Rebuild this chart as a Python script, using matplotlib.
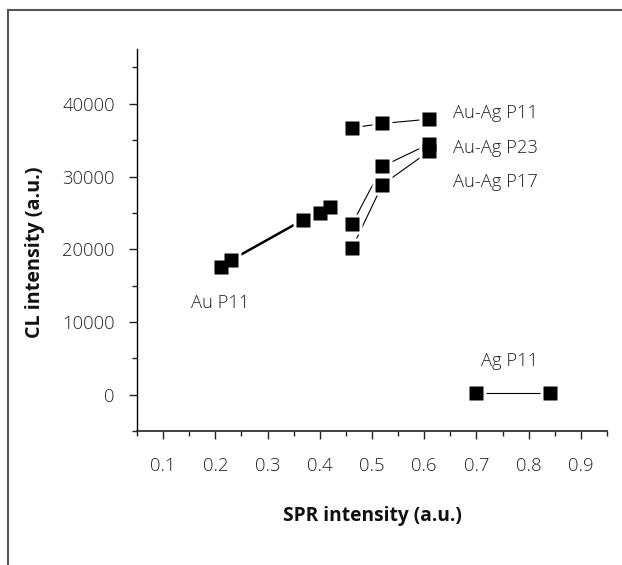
import matplotlib
matplotlib.use("Agg")
import matplotlib.pyplot as plt
from matplotlib.ticker import MultipleLocator
from matplotlib.lines import Line2D

plt.rcParams['font.family'] = ['Open Sans', 'DejaVu Sans']

# Data
au_p11_x = [0.21, 0.23, 0.367, 0.40, 0.42]
au_p11_y = [17500, 18500, 24000, 25000, 25800]
auag_p11_x = [0.462, 0.52, 0.61]
auag_p11_y = [36700, 37300, 37900]
auag_p23_x = [0.462, 0.52, 0.61]
auag_p23_y = [23500, 31400, 34500]
auag_p17_x = [0.462, 0.52, 0.61]
auag_p17_y = [20200, 28900, 33500]
ag_p11_x = [0.70, 0.84]
ag_p11_y = [200, 200]

series = [
    (au_p11_x, au_p11_y, 1.8),
    (auag_p11_x, auag_p11_y, 0.8),
    (auag_p23_x, auag_p23_y, 0.8),
    (auag_p17_x, auag_p17_y, 0.8),
    (ag_p11_x, ag_p11_y, 0.8),
]

labels = ["Au P11", "Au-Ag P11", "Au-Ag P23", "Au-Ag P17", "Ag P11"]
label_x = [0.153, 0.656, 0.656, 0.656, 0.7096]
label_y = [11930, 38080, 33240, 28560, 3950]

fig = plt.figure(figsize=(6.22, 5.65), dpi=100)
ax = fig.add_axes([0.2203, 0.2372, 0.9759 - 0.2203, 0.9127 - 0.2372])

for xs, ys, lw in series:
    ax.plot(xs, ys, color='black', lw=lw, zorder=1, solid_capstyle='butt')
for xs, ys, lw in series:
    ax.plot(xs, ys, ls='none', marker='s', ms=14, mfc='white', mec='none', zorder=2)
for xs, ys, lw in series:
    ax.plot(xs, ys, ls='none', marker='s', ms=10, mfc='black', mec='none', zorder=3)

for t, x, y in zip(labels, label_x, label_y):
    ax.text(x, y, t, fontsize=13.2, color='#222222', ha='left', va='baseline',
            fontweight='light')

ax.set_xlim(0.05, 0.95)
ax.set_ylim(-5000, 47500)
ax.xaxis.set_major_locator(MultipleLocator(0.1))
ax.xaxis.set_minor_locator(MultipleLocator(0.05))
ax.yaxis.set_major_locator(MultipleLocator(10000))
ax.yaxis.set_minor_locator(MultipleLocator(5000))
ax.xaxis.set_major_formatter(matplotlib.ticker.FormatStrFormatter('%.1f'))

for s in ['top', 'right']:
    ax.spines[s].set_visible(False)
ax.spines['left'].set_color('black')
ax.spines['bottom'].set_color('#333333')
ax.spines['left'].set_linewidth(1.0)
ax.spines['bottom'].set_linewidth(1.3)

ax.tick_params(axis='both', which='major', length=6, width=1.0, color='#222222',
               labelsize=13.3, labelcolor='#222222', direction='out')
ax.tick_params(axis='both', which='minor', length=3.5, width=1.0, color='#222222', direction='out')
ax.tick_params(axis='y', which='major', pad=10)
ax.tick_params(axis='x', which='major', pad=13)
for lab in ax.get_xticklabels() + ax.get_yticklabels():
    lab.set_fontweight('light')

ax.set_xlabel('SPR intensity (a.u.)', fontsize=13.8, fontweight='bold', color='#111111', labelpad=22)
ax.set_ylabel('CL intensity (a.u.)', fontsize=14.2, fontweight='bold', color='#111111',
              va='center', ha='center')
ax.yaxis.set_label_coords(-0.217, 0.469)

# Frame border (left and top)
fig.add_artist(Line2D([8/622, 8/622], [0, 1 - 9.5/565], transform=fig.transFigure,
                      color='#555555', lw=1.5))
fig.add_artist(Line2D([8/622, 1], [1 - 9.5/565, 1 - 9.5/565], transform=fig.transFigure,
                      color='#555555', lw=1.5))

fig.savefig('out.png', dpi=100)
